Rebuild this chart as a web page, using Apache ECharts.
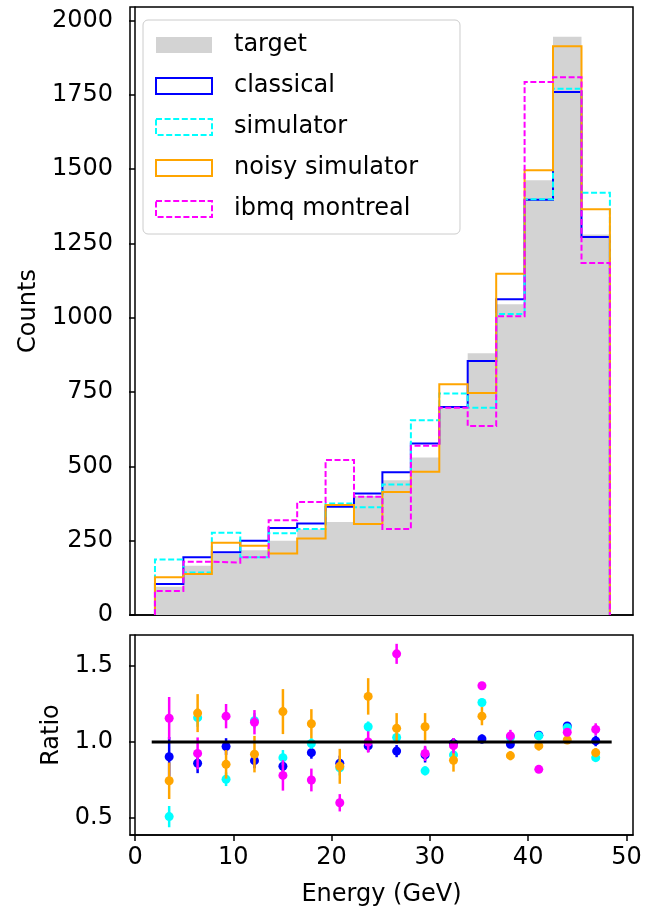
<!DOCTYPE html>
<html><head><meta charset="utf-8">
<script src="https://cdn.jsdelivr.net/npm/echarts@6/dist/echarts.min.js"></script>
<style>html,body{margin:0;padding:0;background:#fff;} #chart{width:645px;height:910px;}</style>
</head><body><div id="chart"></div>
<script>
// ---- data ----
const binEdges = [2.03, 4.92, 7.82, 10.71, 13.60, 16.50, 19.39, 22.28, 25.17, 28.07, 30.96, 33.85, 36.75, 39.64, 42.53, 45.43, 48.32];
const target    = [95, 166, 206, 218, 250, 288, 313, 400, 453, 530, 700, 880, 1045, 1462, 1945, 1280];
const classical = [104, 194, 211, 250, 293, 308, 364, 409, 480, 577, 700, 854, 1062, 1397, 1759, 1271];
const simulator = [187, 143, 277, 194, 275, 289, 375, 362, 439, 655, 745, 697, 1012, 1398, 1770, 1420];
const noisySim  = [127, 138, 243, 233, 207, 257, 370, 306, 414, 482, 776, 747, 1148, 1496, 1913, 1365];
const ibmq      = [81, 179, 176, 194, 319, 380, 521, 398, 289, 569, 697, 636, 1005, 1793, 1809, 1184];

const ratioClassical = [0.903, 0.86, 0.97, 0.877, 0.84, 0.93, 0.86, 0.974, 0.94, 0.915, 0.99, 1.02, 0.985, 1.045, 1.105, 1.007];
const ratioSimulator = [0.509, 1.16, 0.755, 1.14, 0.897, 0.99, 0.83, 1.10, 1.03, 0.81, 0.915, 1.26, 1.03, 1.04, 1.094, 0.897];
const ratioNoisy     = [0.745, 1.19, 0.853, 0.92, 1.20, 1.12, 0.84, 1.30, 1.09, 1.10, 0.88, 1.17, 0.91, 0.974, 1.013, 0.93];
const ratioIbmq      = [1.156, 0.925, 1.17, 1.13, 0.78, 0.75, 0.60, 1.0, 1.58, 0.925, 0.976, 1.37, 1.04, 0.82, 1.064, 1.083];

const errClassical = [0.13, 0.065, 0.055, 0.05, 0.045, 0.04, 0.05, 0.04, 0.04, 0.05, 0.035, 0.03, 0.025, 0.02, 0.025, 0.035];
const errSimulator = [0.07, 0.06, 0.045, 0.05, 0.05, 0.035, 0.05, 0.035, 0.03, 0.03, 0.03, 0.025, 0.025, 0.02, 0.02, 0.02];
const errNoisy     = [0.12, 0.125, 0.094, 0.12, 0.148, 0.096, 0.115, 0.12, 0.10, 0.09, 0.075, 0.06, 0.03, 0.03, 0.025, 0.03];
const errIbmq      = [0.14, 0.105, 0.08, 0.08, 0.10, 0.075, 0.057, 0.07, 0.066, 0.05, 0.05, 0.02, 0.04, 0.02, 0.02, 0.04];

const countTicks  = [0, 250, 500, 750, 1000, 1250, 1500, 1750, 2000];
const ratioTicks  = [0.5, 1.0, 1.5];
const energyTicks = [0, 10, 20, 30, 40, 50];
const unityLine   = [1.7, 48.5];

// ---- helpers ----
const FONT = 'DejaVu Sans';
const binCenters = binEdges.slice(0, -1).map((e, i) => (e + binEdges[i + 1]) / 2);
function stepPath(vals) {
  const pts = [[binEdges[0], 0]];
  vals.forEach((v, i) => { pts.push([binEdges[i], v]); pts.push([binEdges[i + 1], v]); });
  pts.push([binEdges[binEdges.length - 1], 0]);
  return pts;
}
const DASH = [6, 2.6];
const LW = 2;
function stepSeries(name, vals, color, dashed) {
  return {
    name, type: 'line', xAxisIndex: 0, yAxisIndex: 0, data: stepPath(vals),
    symbol: 'none', silent: true,
    lineStyle: { color, width: LW, type: dashed ? DASH : 'solid', join: 'miter' },
    itemStyle: { color }
  };
}
function errSeries(vals, errs, color) {
  return {
    type: 'custom', xAxisIndex: 1, yAxisIndex: 1, silent: true,
    data: vals.map((v, i) => [binCenters[i], v, errs[i]]),
    encode: { x: 0, y: 1 },
    renderItem: (params, api) => {
      const x = api.value(0), y = api.value(1), e = api.value(2);
      const p = api.coord([x, y]), lo = api.coord([x, y - e]), hi = api.coord([x, y + e]);
      return { type: 'group', children: [
        { type: 'line', shape: { x1: lo[0], y1: lo[1], x2: hi[0], y2: hi[1] }, style: { stroke: color, lineWidth: 2.5 } },
        { type: 'circle', shape: { cx: p[0], cy: p[1], r: 4.5 }, style: { fill: color } }
      ]};
    }
  };
}
const axisTxt = { fontSize: 24, color: '#000', fontFamily: FONT };
const frameLine = { show: true, lineStyle: { color: '#000', width: 1.5 } };
const tickStyle = { show: true, length: 6, lineStyle: { color: '#000', width: 1.5 } };

const chart = echarts.init(document.getElementById('chart'), null, { renderer: 'canvas' });
chart.setOption({
  animation: false,
  backgroundColor: '#fff',
  grid: [
    { left: 130, top: 7, width: 503, height: 608, show: true, borderColor: '#000', borderWidth: 1.5, backgroundColor: 'transparent' },
    { left: 130, top: 635, width: 503, height: 200, show: true, borderColor: '#000', borderWidth: 1.5, backgroundColor: 'transparent' }
  ],
  xAxis: [
    { type: 'value', gridIndex: 0, min: -0.51, max: 50.67, axisLine: frameLine, axisTick: { show: false },
      axisLabel: { show: false }, splitLine: { show: false } },
    { type: 'value', gridIndex: 1, min: -0.51, max: 50.67, axisLine: frameLine,
      axisTick: Object.assign({ customValues: energyTicks }, tickStyle),
      axisLabel: Object.assign({ customValues: energyTicks, margin: 11, formatter: v => String(v) }, axisTxt),
      splitLine: { show: false },
      name: 'Energy (GeV)', nameLocation: 'middle', nameGap: 48, nameTextStyle: axisTxt }
  ],
  yAxis: [
    { type: 'value', gridIndex: 0, min: 0, max: 2045, axisLine: frameLine,
      axisTick: Object.assign({ customValues: countTicks }, tickStyle),
      axisLabel: Object.assign({ customValues: countTicks, margin: 17, formatter: v => String(v) }, axisTxt),
      splitLine: { show: false },
      name: 'Counts', nameLocation: 'middle', nameGap: 85, nameTextStyle: axisTxt },
    { type: 'value', gridIndex: 1, min: 0.388, max: 1.704, axisLine: frameLine,
      axisTick: Object.assign({ customValues: ratioTicks }, tickStyle),
      axisLabel: Object.assign({ customValues: ratioTicks, margin: 17, formatter: v => v.toFixed(1) }, axisTxt),
      splitLine: { show: false },
      name: 'Ratio', nameLocation: 'middle', nameGap: 64, nameTextStyle: axisTxt }
  ],
  legend: {
    orient: 'vertical', left: 143, top: 20, padding: [13, 42, 13, 12], itemGap: 17,
    itemWidth: 56, itemHeight: 16, selectedMode: false,
    backgroundColor: 'rgba(255,255,255,0.8)', borderColor: '#cccccc', borderWidth: 1, borderRadius: 5,
    textStyle: { fontSize: 24, color: '#000', fontFamily: FONT, padding: [0, 0, 0, 17] },
    data: [
      { name: 'target', icon: 'rect', itemStyle: { color: '#d3d3d3', borderWidth: 0 } },
      { name: 'classical', icon: 'rect', itemStyle: { color: '#fff', borderColor: '#0000ff', borderWidth: LW } },
      { name: 'simulator', icon: 'rect', itemStyle: { color: '#fff', borderColor: '#00ffff', borderWidth: LW, borderType: DASH } },
      { name: 'noisy simulator', icon: 'rect', itemStyle: { color: '#fff', borderColor: '#ffa500', borderWidth: LW } },
      { name: 'ibmq montreal', icon: 'rect', itemStyle: { color: '#fff', borderColor: '#ff00ff', borderWidth: LW, borderType: DASH } }
    ]
  },
  series: [
    { name: 'target', type: 'line', xAxisIndex: 0, yAxisIndex: 0, data: stepPath(target), symbol: 'none', silent: true,
      lineStyle: { width: 0, opacity: 0 }, itemStyle: { color: '#d3d3d3' },
      areaStyle: { color: '#d3d3d3', opacity: 1 } },
    stepSeries('classical', classical, '#0000ff', false),
    stepSeries('simulator', simulator, '#00ffff', true),
    stepSeries('noisy simulator', noisySim, '#ffa500', false),
    stepSeries('ibmq montreal', ibmq, '#ff00ff', true),
    { type: 'line', xAxisIndex: 1, yAxisIndex: 1, data: [[unityLine[0], 1], [unityLine[1], 1]], symbol: 'none', silent: true,
      lineStyle: { color: '#000', width: 3 } },
    errSeries(ratioClassical, errClassical, '#0000ff'),
    errSeries(ratioSimulator, errSimulator, '#00ffff'),
    errSeries(ratioNoisy, errNoisy, '#ffa500'),
    errSeries(ratioIbmq, errIbmq, '#ff00ff')
  ]
});
</script></body></html>
